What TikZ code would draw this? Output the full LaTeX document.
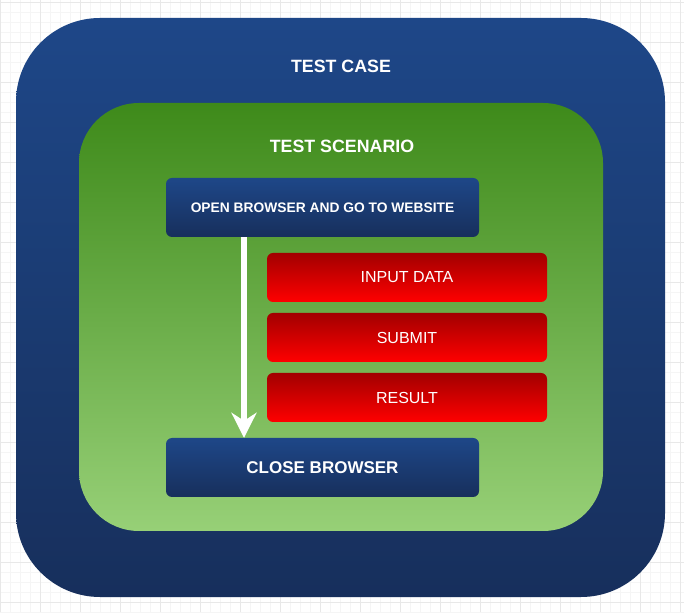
\documentclass[tikz,border=0pt]{standalone}
\usepackage{fontspec}
\setmainfont{Liberation Sans}
\usetikzlibrary{arrows.meta}
\definecolor{bluetop}{HTML}{1E4788}
\definecolor{bluebot}{HTML}{172F5C}
\definecolor{greentop}{HTML}{3E8A1A}
\definecolor{greenbot}{HTML}{97D077}
\definecolor{redtop}{HTML}{A20000}
\definecolor{redbot}{HTML}{FF0000}
\definecolor{gridminor}{HTML}{F5F5F5}
\definecolor{gridmajor}{HTML}{E8E8E8}
\tikzset{
  panel/.style={rounded corners=#1, draw=none},
  bluebox/.style={rounded corners=6pt, top color=bluetop, bottom color=bluebot, draw=none, text=white, font=\bfseries\fontsize{13.8}{16}\selectfont, inner sep=0pt, minimum width=313pt, minimum height=59pt},
  redbox/.style={rounded corners=6pt, top color=redtop, bottom color=redbot, draw=none, text=white, font=\fontsize{16}{18}\selectfont, inner sep=0pt, minimum width=280pt, minimum height=49pt},
  titletext/.style={text=white, font=\bfseries\fontsize{17.8}{20}\selectfont, inner sep=0pt},
}
\begin{document}
\begin{tikzpicture}[x=1pt,y=1pt]
\useasboundingbox (0,0) rectangle (684,612);
\fill[white] (0,0) rectangle (684,612);
% grid
\foreach \i in {0,10,...,680} \draw[gridminor,line width=0.8pt] (\i,0) -- (\i,612);
\foreach \j in {0,10,...,610} \draw[gridminor,line width=0.8pt] (0,\j) -- (684,\j);
\foreach \i in {0,40,...,680} \draw[gridmajor,line width=0.8pt] (\i,0) -- (\i,612);
\foreach \j in {10,50,...,610} \draw[gridmajor,line width=0.8pt] (0,\j) -- (684,\j);
% outer panel
\shade[panel=84pt, top color=bluetop, bottom color=bluebot] (16,15) rectangle (665,594);
\node[titletext] (tc) at (341,546) {TEST CASE};
% green panel
\shade[panel=60pt, top color=greentop, bottom color=greenbot] (79,81) rectangle (603,509);
\node[titletext] (ts) at (342,466) {TEST SCENARIO};
% boxes
\node[bluebox] (open) at (322.5,404.5) {OPEN BROWSER AND GO TO WEBSITE};
\node[redbox] (input) at (407,334.5) {INPUT DATA};
\node[redbox] (submit) at (407,274.5) {SUBMIT};
\node[redbox] (result) at (407,214.5) {RESULT};
\node[bluebox, font=\bfseries\fontsize{17}{19}\selectfont] (close) at (322.5,144.5) {CLOSE BROWSER};
\coordinate (a1) at (244,0 |- open.south);
\coordinate (a2) at (244,0 |- close.north);
\draw[white, line width=6pt, -{Stealth[length=25pt,width=25pt,inset=8pt]}] (a1) -- (a2);
\end{tikzpicture}
\end{document}
